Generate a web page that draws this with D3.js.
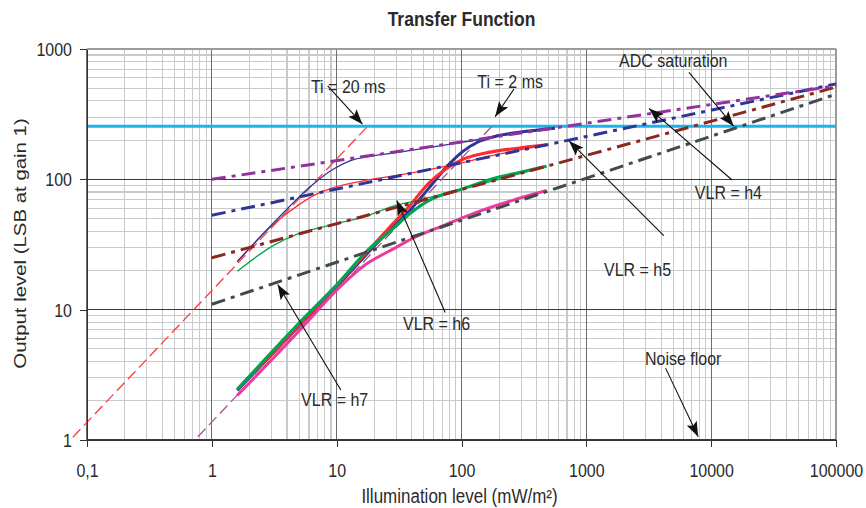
<!DOCTYPE html>
<html>
<head>
<meta charset="utf-8">
<title>Transfer Function</title>
<style>
  body { margin: 0; background: #fff; }
  svg { font-family: "Liberation Sans", Arial, Helvetica, sans-serif; }
  .axis path, .axis line { stroke: #333; shape-rendering: crispEdges; }
  .axis text { font-size: 16px; fill: #2a2a2a; }
  .grid line { shape-rendering: crispEdges; }
</style>
<script src="https://d3js.org/d3.v7.min.js"></script>
</head>
<body>
<div id="chart"></div>
<script>
// axis ticks
var xTicks = [0.1, 1, 10, 100, 1000, 10000, 100000];
var xTickLabels = ["0,1", "1", "10", "100", "1000", "10000", "100000"];
var yTicks = [1, 10, 100, 1000];
var yTickLabels = ["1", "10", "100", "1000"];

// ADC saturation level (LSB)
var adcLevel = 255;

// integration time lines, [illumination, output]
var ti20 = [[0.077, 1.05], [17.7, 255]];
var ti2 = [[0.773, 1.06], [175, 255]];

// VLR asymptotes
var vlrH4 = [[1, 100], [100000, 522]];
var vlrH5 = [[1, 53], [100000, 540]];
var vlrH6 = [[1, 25], [100000, 510]];
var vlrH7 = [[1, 11], [100000, 450]];

// measured, Ti = 20 ms
var thinH4 = [[1.6, 23.4], [3.1, 46], [6.4, 91], [9.3, 119], [12.6, 138], [20, 152], [32, 162], [100, 192], [200, 215], [560, 248]];
var thinH5 = [[1.6, 23.4], [3.1, 45], [5, 64], [6.9, 77], [9.3, 86], [16, 97], [32, 108], [100, 134], [200, 156], [480, 184]];
var thinH6 = [[1.6, 19.7], [3.1, 31], [5, 38.5], [9.3, 45], [17, 52], [28, 62], [45, 69], [100, 84], [200, 100], [480, 126]];

// measured, Ti = 2 ms
var thickH4 = [[1.6, 2.4], [5, 7.5], [10, 15], [26, 40], [38, 57], [55, 86], [75, 123], [102, 163], [139, 196], [188, 214], [290, 230], [560, 247]];
var thickH5 = [[1.6, 2.45], [5, 7.6], [10, 15.4], [26, 42], [38, 62], [55, 94], [75, 120], [102, 142], [150, 158], [290, 174], [480, 184]];
var thickH6 = [[1.6, 2.45], [5, 7.9], [10, 15.5], [18, 29], [26, 39], [38, 54], [55, 69], [100, 84], [190, 103], [290, 113], [480, 126]];
var thickH7 = [[1.6, 2.2], [5.3, 7.3], [9.9, 14], [18, 23], [22, 25.7], [28, 29], [40, 35], [75, 45], [140, 57], [256, 69], [480, 82]];

// annotations: text, text start, arrow start, arrow tip
var noteTexts = ["Ti = 20 ms", "Ti = 2 ms", "ADC saturation", "VLR = h4", "VLR = h5", "VLR = h6", "VLR = h7", "Noise floor"];
var noteAt = [[6.22, 519], [134, 562], [1828, 816], [7400, 79.4], [1386, 20.3], [34, 7.8], [5.19, 2.03], [2950, 4.2]];
var arrowFrom = [[8.47, 522], [263, 492], [6635, 662], [14720, 98.8], [4170, 37], [74, 9.5], [10.8, 2.42], [4315, 3.56]];
var arrowTo = [[16.1, 265], [186, 303], [15150, 256], [3175, 350], [727, 197], [30.3, 68.9], [3.37, 15.6], [7870, 1.06]];

var blue = "#2f3597", red = "#ff2b2b", green = "#00a552", pink = "#ee3a9c",
    purple = "#93329e", brown = "#8c271e", slate = "#414b4b";

var curves = [
  {data: ti20, color: "#ff3a3a", width: 1.3, dash: "11,5"},
  {data: ti2, color: "#a2558f", width: 1.3, dash: "11,5"},
  {data: thickH4, color: blue, width: 3},
  {data: thickH5, color: red, width: 3},
  {data: thickH7, color: pink, width: 3},
  {data: thickH6, color: green, width: 3},
  {data: thinH6, color: green, width: 1.3},
  {data: thinH5, color: red, width: 1.3},
  {data: thinH4, color: blue, width: 1.3},
  {data: vlrH7, color: slate, width: 3, dash: "14,6,4,6"},
  {data: vlrH6, color: brown, width: 3, dash: "14,6,4,6"},
  {data: vlrH5, color: blue, width: 3, dash: "14,6,4,6"},
  {data: vlrH4, color: purple, width: 3, dash: "14,6,4,6"}
];

var W = 866, H = 508;
var margin = {top: 49, right: 30, bottom: 68, left: 87},
    width = W - margin.left - margin.right,
    height = H - margin.top - margin.bottom;

var svg = d3.select("#chart").append("svg")
    .attr("width", W)
    .attr("height", H);

var g = svg.append("g")
    .attr("transform", "translate(" + margin.left + "," + margin.top + ")");

var x = d3.scaleLog().domain([0.1, 100000]).range([0, width]);
var y = d3.scaleLog().domain([1, 1000]).range([height, 0]);

// text with the slightly tall look of the original
function label(parent, px, py, txt, size, anchor, weight) {
  return parent.append("text")
    .attr("transform", "translate(" + px + "," + py + ") scale(1,1.15)")
    .attr("text-anchor", anchor)
    .attr("dominant-baseline", "central")
    .style("font-size", size + "px")
    .style("font-weight", weight || "normal")
    .style("fill", "#2a2a2a")
    .text(txt);
}

// grid
var grid = g.append("g").attr("class", "grid");
grid.selectAll(".vminor").data(x.ticks()).enter().append("line")
    .attr("x1", function(d) { return x(d); }).attr("x2", function(d) { return x(d); })
    .attr("y1", 0).attr("y2", height)
    .attr("stroke", "#c9cace").attr("stroke-width", 1.1);
grid.selectAll(".hminor").data(y.ticks()).enter().append("line")
    .attr("y1", function(d) { return y(d); }).attr("y2", function(d) { return y(d); })
    .attr("x1", 0).attr("x2", width)
    .attr("stroke", "#c9cace").attr("stroke-width", 1.1);
grid.selectAll(".vmajor").data(xTicks).enter().append("line")
    .attr("x1", function(d) { return x(d); }).attr("x2", function(d) { return x(d); })
    .attr("y1", 0).attr("y2", height)
    .attr("stroke", function(d, i) { return i === xTicks.length - 1 ? "#9a9a9a" : "#6c6c6c"; })
    .attr("stroke-width", 1.3);
grid.selectAll(".hmajor").data(yTicks).enter().append("line")
    .attr("y1", function(d) { return y(d); }).attr("y2", function(d) { return y(d); })
    .attr("x1", 0).attr("x2", width)
    .attr("stroke", function(d, i) { return i === yTicks.length - 1 ? "#9a9a9a" : "#3a3a3a"; })
    .attr("stroke-width", 1.3);

// ADC saturation
g.append("line")
    .attr("x1", x(0.1)).attr("x2", x(100000))
    .attr("y1", y(adcLevel)).attr("y2", y(adcLevel))
    .attr("stroke", "#1ab4ea").attr("stroke-width", 3);

var line = d3.line()
    .x(function(d) { return x(d[0]); })
    .y(function(d) { return y(d[1]); })
    .curve(d3.curveMonotoneX);

curves.forEach(function(c) {
  g.append("path")
    .datum(c.data)
    .attr("fill", "none")
    .attr("stroke", c.color)
    .attr("stroke-width", c.width)
    .attr("stroke-dasharray", c.dash || null)
    .attr("d", line);
});

// axes
var xAxis = d3.axisBottom(x).tickValues(xTicks)
    .tickFormat(function(d, i) { return xTickLabels[i]; })
    .tickSize(7).tickSizeOuter(0);
var yAxis = d3.axisLeft(y).tickValues(yTicks)
    .tickFormat(function(d, i) { return yTickLabels[i]; })
    .tickSize(7).tickSizeOuter(0);

var gx = g.append("g").attr("class", "axis")
    .attr("transform", "translate(0," + height + ")")
    .call(xAxis);
gx.select(".domain").attr("stroke", "#1a1a1a").attr("stroke-width", 1.3);
gx.selectAll("text")
    .attr("y", null).attr("dy", null)
    .attr("dominant-baseline", "central")
    .attr("transform", "translate(0,31) scale(1,1.15)");

var gy = g.append("g").attr("class", "axis").call(yAxis);
gy.select(".domain").attr("stroke-width", 1.3);
gy.selectAll("text")
    .attr("x", null).attr("dy", null)
    .attr("dominant-baseline", "central")
    .attr("transform", "translate(-15,0) scale(1,1.15)");

// annotations
var defs = svg.append("defs");
defs.append("marker")
    .attr("id", "head")
    .attr("markerUnits", "userSpaceOnUse")
    .attr("markerWidth", 16).attr("markerHeight", 12)
    .attr("refX", 15).attr("refY", 6)
    .attr("orient", "auto")
  .append("path")
    .attr("d", "M0,0.5 L15,6 L0,11.5 L3,6 Z")
    .attr("fill", "#111");

noteTexts.forEach(function(t, i) {
  g.append("line")
    .attr("x1", x(arrowFrom[i][0])).attr("y1", y(arrowFrom[i][1]))
    .attr("x2", x(arrowTo[i][0])).attr("y2", y(arrowTo[i][1]))
    .attr("stroke", "#111").attr("stroke-width", 1.1)
    .attr("marker-end", "url(#head)");
});
noteTexts.forEach(function(t, i) {
  label(g, x(noteAt[i][0]), y(noteAt[i][1]), t, 16, "start");
});

// titles
label(svg, margin.left + width / 2, 19, "Transfer Function", 17.5, "middle", "bold");
label(svg, 459.5, 496, "Illumination level (mW/m\u00b2)", 17, "middle");
svg.append("text")
    .attr("transform", "translate(20,243.5) rotate(-90) scale(1.2,1)")
    .attr("text-anchor", "middle")
    .attr("dominant-baseline", "central")
    .style("font-size", "17px")
    .style("fill", "#2a2a2a")
    .text("Output level (LSB at gain 1)");
</script>
</body>
</html>
